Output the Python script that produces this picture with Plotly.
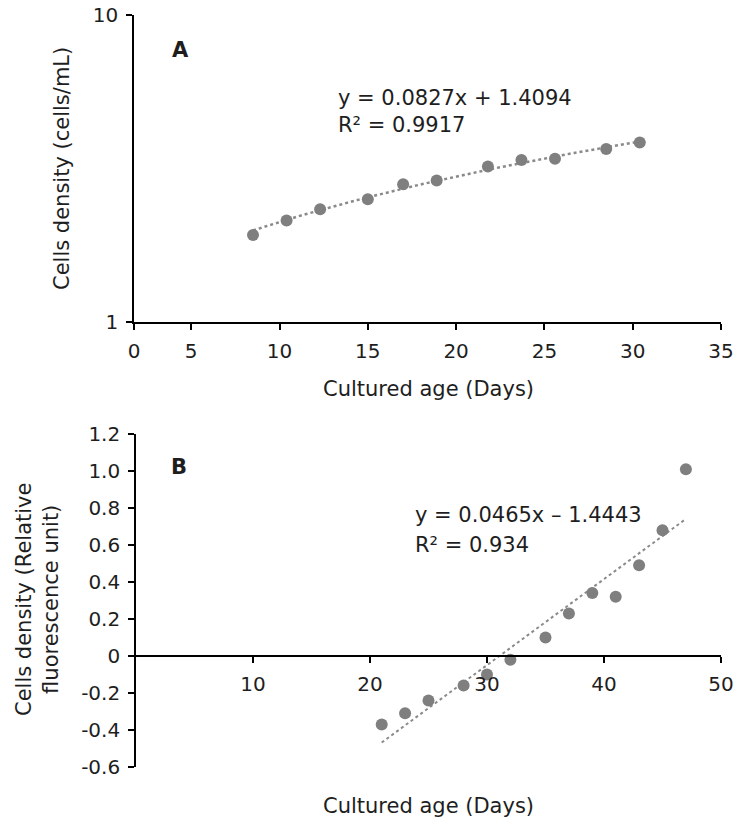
import numpy as np
import plotly.graph_objects as go

# ---------------- data: panel A ----------------
days_a = [8.5, 10.4, 12.3, 15.0, 17.0, 18.9, 21.8, 23.7, 25.6, 28.5, 30.4]
density_a = [1.92, 2.14, 2.33, 2.51, 2.81, 2.89, 3.21, 3.37, 3.40, 3.66, 3.84]
eq_a = "y = 0.0827x + 1.4094"
r2_a = "R\u00b2 = 0.9917"
xa_axis_start = 1.76          # left end of the A axis (labelled "0")
xa_tick_vals = [xa_axis_start, 5, 10, 15, 20, 25, 30, 35]
xa_tick_text = ["0", "5", "10", "15", "20", "25", "30", "35"]
ya_tick_vals = [1, 10]
ya_tick_text = ["1", "10"]

# ---------------- data: panel B ----------------
days_b = [21, 23, 25, 28, 30, 32, 35, 37, 39, 41, 43, 45, 47]
density_b = [-0.37, -0.31, -0.24, -0.16, -0.10, -0.02, 0.10, 0.23, 0.34, 0.32, 0.49, 0.68, 1.01]
slope_b, intercept_b = 0.0465, -1.4443
eq_b = "y = 0.0465x \u2013 1.4443"
r2_b = "R\u00b2 = 0.934"
xb_tick_vals = [10, 20, 30, 40, 50]
xb_tick_text = ["10", "20", "30", "40", "50"]
yb_tick_vals = [-0.6, -0.4, -0.2, 0, 0.2, 0.4, 0.6, 0.8, 1.0, 1.2]
yb_tick_text = ["-0.6", "-0.4", "-0.2", "0", "0.2", "0.4", "0.6", "0.8", "1.0", "1.2"]

# trend lines
pa = np.polyfit(days_a, density_a, 1)
trend_xa = np.linspace(min(days_a), max(days_a), 60)
trend_ya = np.polyval(pa, trend_xa)
trend_xb = np.array([min(days_b), max(days_b)])
trend_yb = slope_b * trend_xb + intercept_b

W, H = 740, 822
FONT = "DejaVu Sans"
FS_TICK = 20
FS_TEXT = 21
TXT = "#1e1e1e"
GRAY = "#7f7f7f"

def px_x(p):
    return p / W

def px_y(p):
    return 1 - p / H

fig = go.Figure()

marker = dict(color=GRAY, size=12)
fig.add_trace(go.Scatter(x=trend_xa, y=trend_ya, mode="lines",
                         line=dict(color="#8a8a8a", width=2.5, dash="dot"),
                         xaxis="x", yaxis="y", showlegend=False))
fig.add_trace(go.Scatter(x=days_a, y=density_a, mode="markers", marker=marker,
                         xaxis="x", yaxis="y", showlegend=False))
fig.add_trace(go.Scatter(x=trend_xb, y=trend_yb, mode="lines",
                         line=dict(color="#8a8a8a", width=2, dash="dot"),
                         xaxis="x2", yaxis="y2", showlegend=False))
fig.add_trace(go.Scatter(x=days_b, y=density_b, mode="markers", marker=marker,
                         xaxis="x2", yaxis="y2", showlegend=False))

axis_common = dict(showline=True, linecolor="black", linewidth=1.6, ticks="outside",
                   ticklen=6, tickwidth=1.6, tickcolor="black", showgrid=False,
                   zeroline=False, automargin=False,
                   tickfont=dict(family=FONT, size=FS_TICK, color=TXT))

yb_dom = [px_y(767), px_y(434)]
yb_min, yb_max = -0.6, 1.2
xb_pos = yb_dom[0] + (0 - yb_min) / (yb_max - yb_min) * (yb_dom[1] - yb_dom[0])

fig.update_layout(
    template="none",
    width=W, height=H, margin=dict(l=0, r=0, t=0, b=0, autoexpand=False),
    plot_bgcolor="white", paper_bgcolor="white",
    font=dict(family=FONT, size=FS_TEXT, color=TXT),
    xaxis=dict(domain=[px_x(134), px_x(721)], range=[xa_axis_start, 35],
               tickvals=xa_tick_vals, ticktext=xa_tick_text, anchor="y",
               ticklabelstandoff=4, **axis_common),
    yaxis=dict(domain=[px_y(322), px_y(15)], type="log", range=[0, 1],
               tickvals=ya_tick_vals, ticktext=ya_tick_text, anchor="x",
               ticklabelstandoff=4, **axis_common),
    xaxis2=dict(domain=[px_x(136), px_x(721)], range=[0, 50],
                tickvals=xb_tick_vals, ticktext=xb_tick_text, anchor="free",
                position=xb_pos, ticklabelstandoff=4, **axis_common),
    yaxis2=dict(domain=yb_dom, range=[yb_min, yb_max],
                tickvals=yb_tick_vals, ticktext=yb_tick_text, anchor="x2",
                ticklabelstandoff=4, **axis_common),
)

def ann(text, x, y, **kw):
    d = dict(text=text, x=px_x(x), y=px_y(y), xref="paper", yref="paper",
             showarrow=False, xanchor="center", yanchor="middle",
             font=dict(family=FONT, size=FS_TEXT, color=TXT))
    d.update(kw)
    fig.add_annotation(**d)

ann("<b>A</b>", 180, 50)
ann("<b>B</b>", 179, 467)
ann(eq_a, 336, 98, xanchor="left")
ann(r2_a, 336, 125, xanchor="left")
ann(eq_b, 413, 515, xanchor="left")
ann(r2_b, 413, 545, xanchor="left")
ann("Cultured age (Days)", 428, 389)
ann("Cultured age (Days)", 428, 806)
ann("Cells density (cells/mL)", 62, 169, textangle=-90)
ann("Cells density (Relative<br>fluorescence unit)", 37, 600, textangle=-90)

fig.write_html("out.html", config={"displayModeBar": False},
               post_script="document.body.style.margin='0';document.body.style.padding='0';document.body.style.overflow='hidden';")
